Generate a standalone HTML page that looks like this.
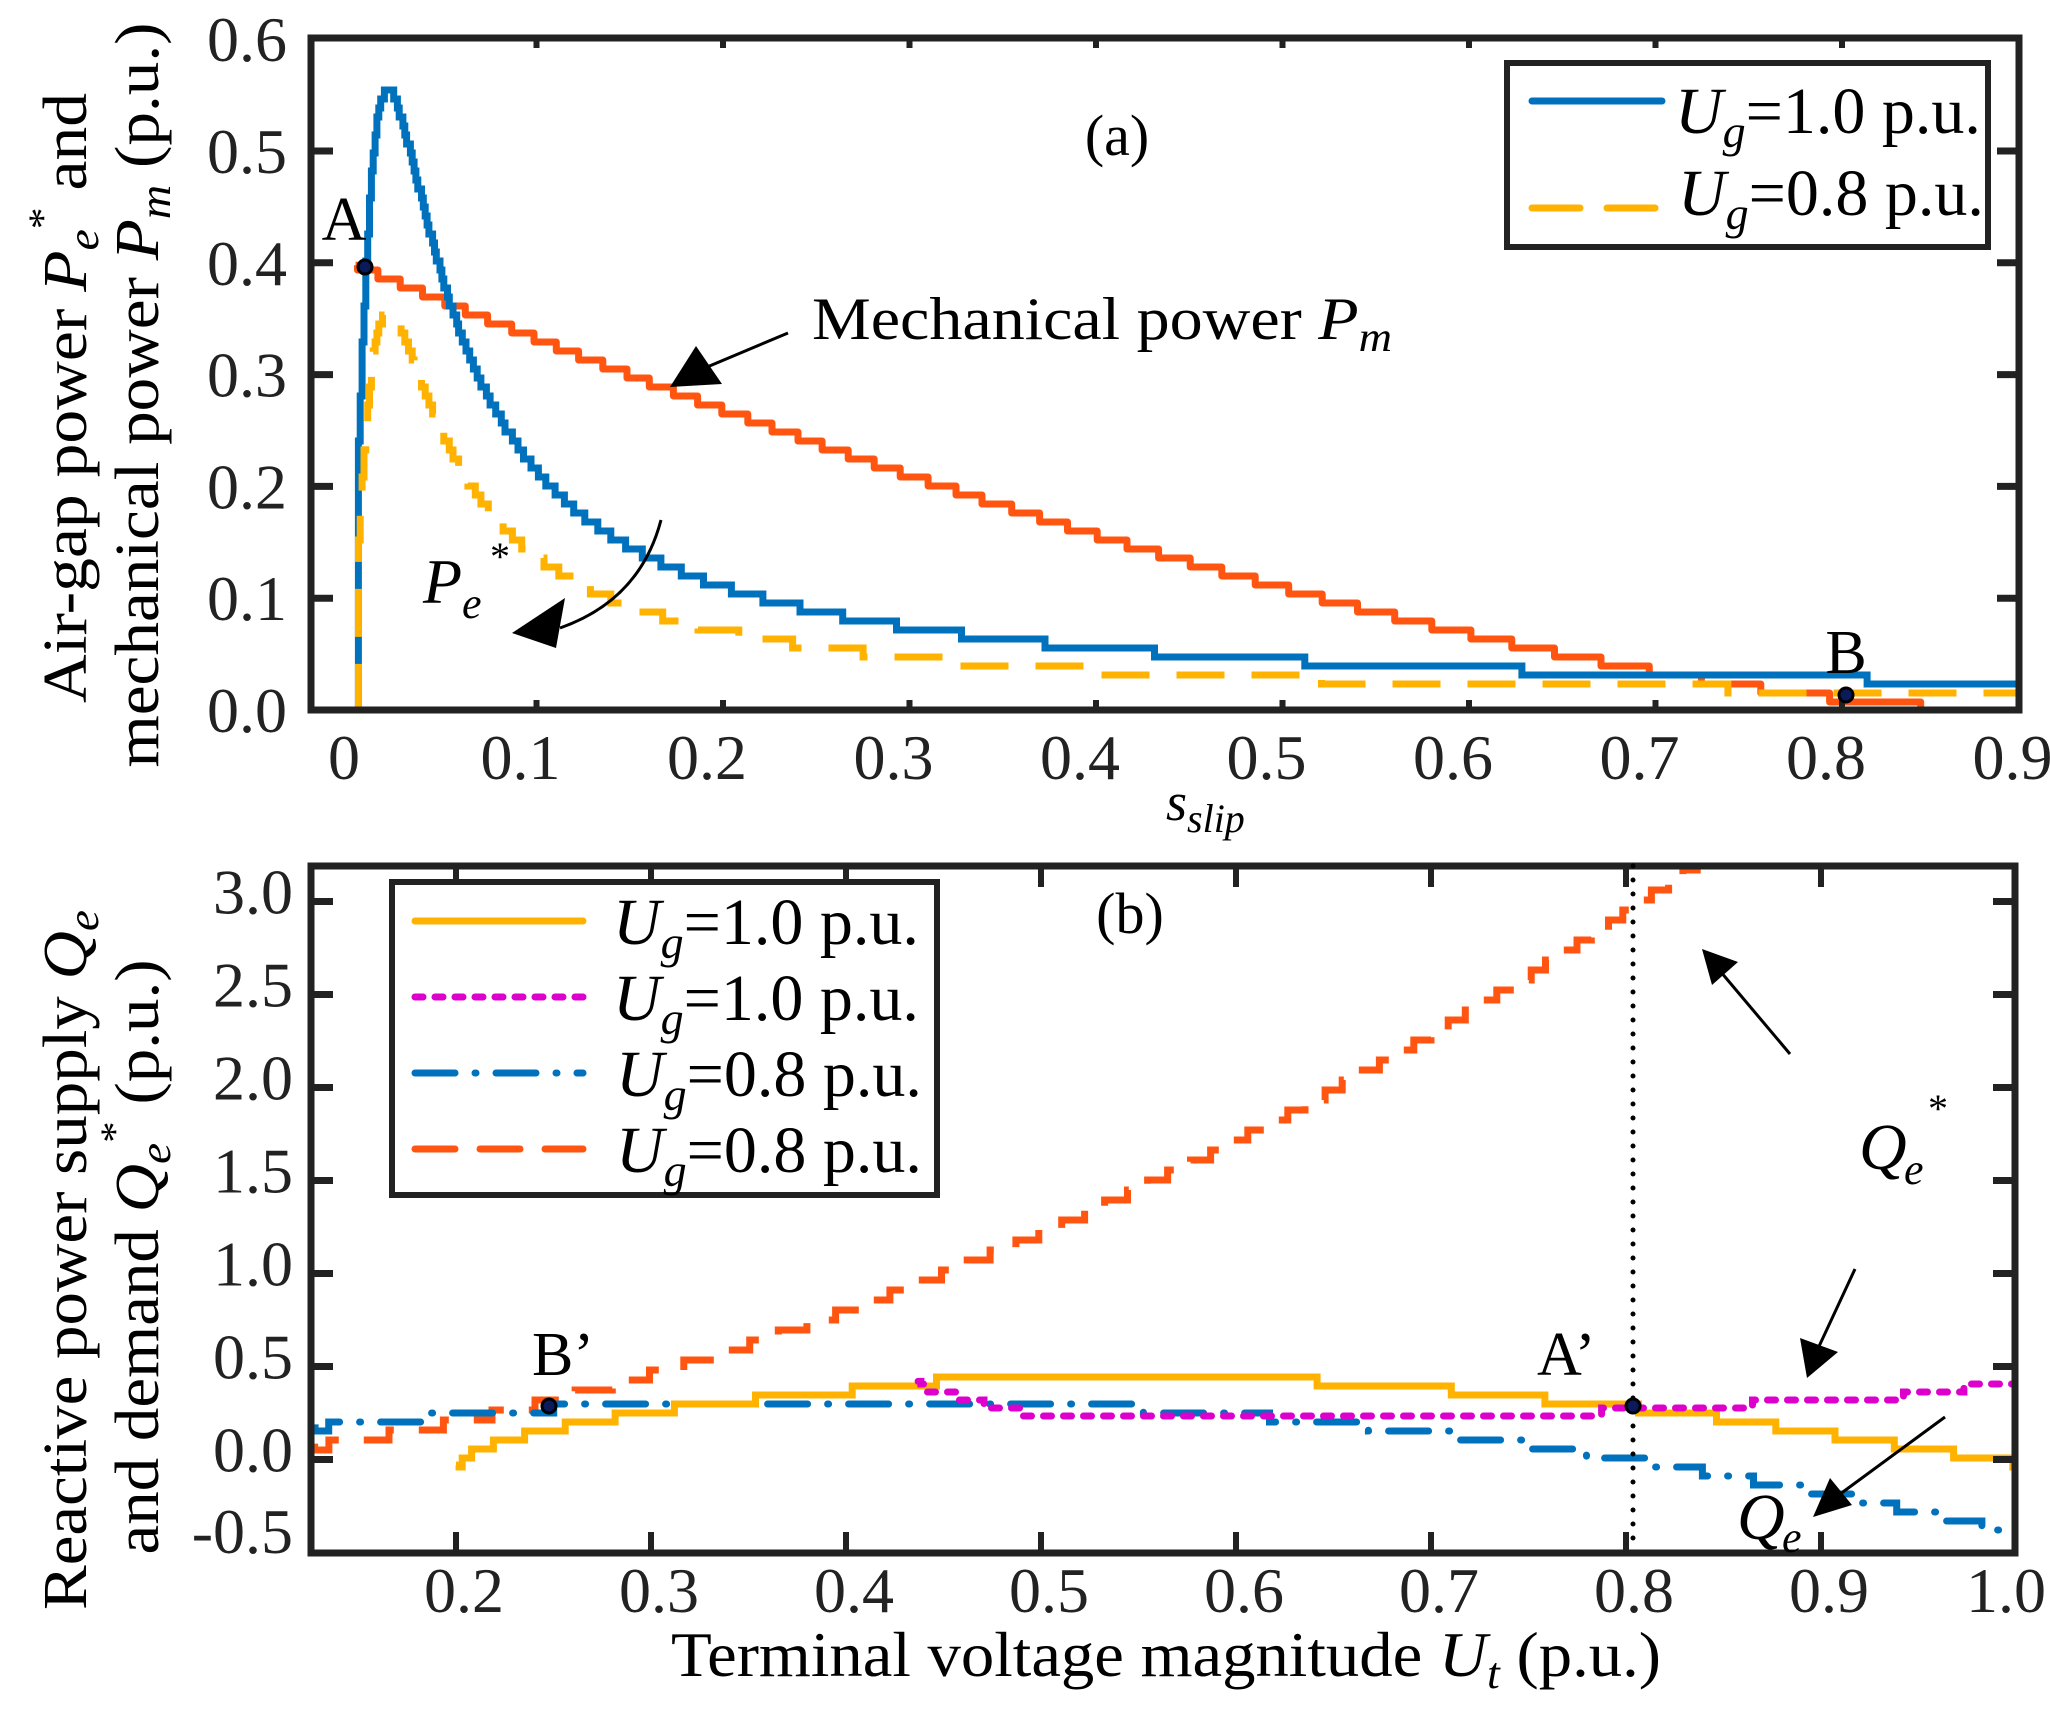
<!DOCTYPE html>
<html><head><meta charset="utf-8"><style>
html,body{margin:0;padding:0;background:#fff}
svg{display:block}
text{font-family:"Liberation Serif","Times New Roman",serif;fill:#000}
.t{font-size:64px;fill:#222}
.i{font-style:italic}
</style></head><body>
<svg id="s" width="2050" height="1709" viewBox="0 0 2050 1709" xmlns="http://www.w3.org/2000/svg">
<defs>
<clipPath id="c1"><rect x="311" y="38" width="1708" height="672"/></clipPath>
<clipPath id="c2"><rect x="311" y="863" width="1704" height="690"/></clipPath>
</defs>
<g id="g1" clip-path="url(#c1)"></g>
<g id="g2" clip-path="url(#c2)"></g>
<g id="ax" stroke="#222" stroke-width="7" fill="none"></g>
<g id="lab"></g>

<text x="1117" y="155" font-size="58" text-anchor="middle">(a)</text>
<text x="344" y="240" font-size="62" text-anchor="middle">A</text>
<text x="1846" y="673" font-size="62" text-anchor="middle">B</text>
<circle cx="365" cy="267" r="7" fill="#0a1a5a" stroke="#000" stroke-width="3"/>
<circle cx="1846" cy="695" r="7" fill="#0a1a5a" stroke="#000" stroke-width="3"/>
<text x="812" y="339" font-size="60" textLength="580" lengthAdjust="spacingAndGlyphs">Mechanical power <tspan class="i">P</tspan><tspan class="i" font-size="42" dy="12">m</tspan></text>
<line x1="788" y1="333" x2="700" y2="370" stroke="#000" stroke-width="3"/>
<polygon points="670,387 696,346 722,384" fill="#000"/>
<text x="423" y="603" font-size="64" class="i">P</text>
<text x="462" y="618" font-size="44" class="i">e</text>
<text x="490" y="570" font-size="40">*</text>
<path d="M661,520 Q640,600 560,628" stroke="#000" stroke-width="3" fill="none"/>
<polygon points="512,633 565,598 556,648" fill="#000"/>
<text x="1166" y="820" font-size="54" class="i">s<tspan font-size="40" dy="12">slip</tspan></text>
<text transform="translate(86,398) rotate(-90)" font-size="62" text-anchor="middle" textLength="610" lengthAdjust="spacingAndGlyphs">Air-gap power <tspan class="i">P</tspan><tspan class="i" font-size="44" dy="12">e</tspan><tspan font-size="40" dy="-42">*</tspan><tspan dy="30"> and</tspan></text>
<text transform="translate(158,395) rotate(-90)" font-size="62" text-anchor="middle" textLength="745" lengthAdjust="spacingAndGlyphs">mechanical power <tspan class="i">P</tspan><tspan class="i" font-size="44" dy="12">m</tspan><tspan dy="-12"> (p.u.)</tspan></text>

<rect x="1507" y="63" width="481" height="184" fill="#fff" stroke="#222" stroke-width="6"/>
<line x1="1532" y1="101" x2="1662" y2="101" stroke="#0072BD" stroke-width="7" stroke-linecap="round"/>
<line x1="1532" y1="208" x2="1662" y2="208" stroke="#FFB300" stroke-width="7" stroke-dasharray="48 27" stroke-linecap="round"/>
<text x="1675" y="133" font-size="66"><tspan class="i">U</tspan><tspan class="i" font-size="46" dy="14">g</tspan><tspan dy="-14">=1.0 p.u.</tspan></text>
<text x="1678" y="215" font-size="66"><tspan class="i">U</tspan><tspan class="i" font-size="46" dy="14">g</tspan><tspan dy="-14">=0.8 p.u.</tspan></text>

<line x1="1633" y1="866" x2="1633" y2="1552" stroke="#000" stroke-width="5" stroke-dasharray="0 14" stroke-linecap="round"/>
<text x="1130" y="933" font-size="58" text-anchor="middle">(b)</text>
<text x="532" y="1375" font-size="62">B’</text>
<text x="1537" y="1375" font-size="62">A’</text>
<circle cx="549" cy="1406" r="7" fill="#0a1a5a" stroke="#000" stroke-width="3"/>
<circle cx="1633" cy="1406" r="7" fill="#0a1a5a" stroke="#000" stroke-width="3"/>
<text x="1859" y="1169" font-size="66" class="i">Q</text>
<text x="1904" y="1184" font-size="44" class="i">e</text>
<text x="1928" y="1122" font-size="40">*</text>
<text x="1737" y="1539" font-size="66" class="i">Q</text>
<text x="1782" y="1552" font-size="44" class="i">e</text>
<line x1="1790" y1="1054" x2="1715" y2="965" stroke="#000" stroke-width="3"/>
<polygon points="1702,949 1738,962 1712,985" fill="#000"/>
<line x1="1855" y1="1269" x2="1815" y2="1355" stroke="#000" stroke-width="3"/>
<polygon points="1807,1378 1800,1338 1838,1352" fill="#000"/>
<line x1="1945" y1="1417" x2="1832" y2="1500" stroke="#000" stroke-width="3"/>
<polygon points="1813,1517 1830,1478 1852,1505" fill="#000"/>
<text x="1166" y="1676" font-size="64" text-anchor="middle" textLength="990" lengthAdjust="spacingAndGlyphs">Terminal voltage magnitude <tspan class="i">U</tspan><tspan class="i" font-size="44" dy="12">t</tspan><tspan dy="-12"> (p.u.)</tspan></text>
<text transform="translate(86,1260) rotate(-90)" font-size="62" text-anchor="middle" textLength="700" lengthAdjust="spacingAndGlyphs">Reactive power supply <tspan class="i">Q</tspan><tspan class="i" font-size="44" dy="12">e</tspan></text>
<text transform="translate(158,1257) rotate(-90)" font-size="62" text-anchor="middle" textLength="595" lengthAdjust="spacingAndGlyphs">and demand <tspan class="i">Q</tspan><tspan class="i" font-size="44" dy="12">e</tspan><tspan font-size="40" dy="-42">*</tspan><tspan dy="30"> (p.u.)</tspan></text>

<rect x="392" y="882" width="545" height="313" fill="#fff" stroke="#222" stroke-width="6"/>
<line x1="415" y1="921" x2="583" y2="921" stroke="#FFB300" stroke-width="7" stroke-linecap="round"/>
<line x1="415" y1="997" x2="583" y2="997" stroke="#DD00CC" stroke-width="7" stroke-dasharray="8 12" stroke-linecap="round"/>
<line x1="415" y1="1073" x2="583" y2="1073" stroke="#0072BD" stroke-width="7" stroke-dasharray="40 20 1 20" stroke-linecap="round"/>
<line x1="415" y1="1149" x2="583" y2="1149" stroke="#FF5511" stroke-width="7" stroke-dasharray="40 25" stroke-linecap="round"/>
<text x="613" y="944" font-size="66"><tspan class="i">U</tspan><tspan class="i" font-size="46" dy="14">g</tspan><tspan dy="-14">=1.0 p.u.</tspan></text>
<text x="613" y="1020" font-size="66"><tspan class="i">U</tspan><tspan class="i" font-size="46" dy="14">g</tspan><tspan dy="-14">=1.0 p.u.</tspan></text>
<text x="616" y="1096" font-size="66"><tspan class="i">U</tspan><tspan class="i" font-size="46" dy="14">g</tspan><tspan dy="-14">=0.8 p.u.</tspan></text>
<text x="616" y="1172" font-size="66"><tspan class="i">U</tspan><tspan class="i" font-size="46" dy="14">g</tspan><tspan dy="-14">=0.8 p.u.</tspan></text>
</svg>
<script>
(function(){
var NS="http://www.w3.org/2000/svg";
function el(p,n,a,txt){var e=document.createElementNS(NS,n);for(var k in a)e.setAttribute(k,a[k]);if(txt!==undefined)e.textContent=txt;p.appendChild(e);return e;}
var g1=document.getElementById('g1'),g2=document.getElementById('g2'),ax=document.getElementById('ax'),lab=document.getElementById('lab');
function X1(s){return 350+1865*s;} function Y1(v){return 710-1118*v;}
function X2(u){return 456+(u-0.2)*1950;} function Y2(q){return 1459.5-186*q;}
function stair(pts,q){
  var d="M"+pts[0][0].toFixed(1)+","+pts[0][1].toFixed(1); var py=pts[0][1];
  for(var i=1;i<pts.length;i++){var x=pts[i][0],y=Math.round(pts[i][1]/q)*q; if(y!==py){d+="L"+x.toFixed(1)+","+py.toFixed(1)+"L"+x.toFixed(1)+","+y.toFixed(1);py=y;}}
  d+="L"+pts[pts.length-1][0].toFixed(1)+","+py.toFixed(1);return d;}
function samp(f,a,b,n,X,Y){var p=[];for(var i=0;i<=n;i++){var t=a+(b-a)*i/n;p.push([X(t),Y(f(t))]);}return p;}
function pm(s){var r=1-s/0.88;return r>0?0.4*Math.pow(r,1.55):0;}
function pe(s){return 1.11/(s/0.02+0.02/s);}
var pb=[[X1(0.0035),Y1(0)]].concat(samp(pe,0.0045,0.9,900,X1,Y1));
var py=[[X1(0.0035),Y1(0)]].concat(samp(function(s){return 0.64*pe(s);},0.0045,0.9,900,X1,Y1));
el(g1,'path',{d:stair(samp(pm,0.003,0.9,900,X1,Y1),9),stroke:'#FF5511','stroke-width':7,fill:'none','stroke-linejoin':'round'});
el(g1,'path',{d:stair(pb,9),stroke:'#0072BD','stroke-width':7,fill:'none'});
el(g1,'path',{d:stair(py,9),stroke:'#FFB300','stroke-width':7,fill:'none','stroke-dasharray':'48 27'});
function lerp(P,u){if(u<=P[0][0])return P[0][1];for(var i=1;i<P.length;i++){if(u<=P[i][0]){var a=P[i-1],b=P[i];return a[1]+(b[1]-a[1])*(u-a[0])/(b[0]-a[0]);}}return P[P.length-1][1];}
var yel=[[0.2,-0.03],[0.21,0.05],[0.23,0.12],[0.26,0.19],[0.3,0.26],[0.35,0.32],[0.4,0.37],[0.44,0.39],[0.445,0.42],[0.64,0.42],[0.7,0.38],[0.75,0.33],[0.8,0.28],[0.85,0.22],[0.9,0.14],[0.95,0.06],[1.0,-0.02]];
var mag=[[0.437,0.42],[0.44,0.38],[0.46,0.33],[0.48,0.27],[0.5,0.24],[0.52,0.22],[0.78,0.22],[0.79,0.27],[0.86,0.27],[0.87,0.33],[0.94,0.33],[0.95,0.38],[1.0,0.39]];
el(g2,'path',{d:stair(samp(function(u){return 4.57*u*u-0.006+0.08*Math.sin(Math.PI*(u-0.126)/0.75);},0.126,0.86,500,X2,Y2),10),stroke:'#FF5511','stroke-width':7,fill:'none','stroke-dasharray':'40 25'});
el(g2,'path',{d:stair(samp(function(u){return -2*(u-0.4)*(u-0.4)+0.32;},0.126,1.0,500,X2,Y2),9),stroke:'#0072BD','stroke-width':7,fill:'none','stroke-dasharray':'40 20 1 20','stroke-linecap':'round'});
el(g2,'path',{d:stair(samp(function(u){return lerp(yel,u);},0.2,1.0,500,X2,Y2),9),stroke:'#FFB300','stroke-width':7,fill:'none'});
el(g2,'path',{d:stair(samp(function(u){return lerp(mag,u);},0.437,1.0,400,X2,Y2),8),stroke:'#DD00CC','stroke-width':7,fill:'none','stroke-dasharray':'8 12','stroke-linecap':'round'});
el(ax,'rect',{x:311,y:38,width:1708,height:672});
el(ax,'rect',{x:311,y:866,width:1704,height:687});
var i;
for(i=1;i<=6;i++){var y=Y1(i/10); if(i<6){el(ax,'line',{x1:311,y1:y,x2:333,y2:y});el(ax,'line',{x1:2019,y1:y,x2:1997,y2:y});}}
for(i=0;i<=6;i++){el(lab,'text',{'class':'t',x:287,y:Y1(i/10)+22,'text-anchor':'end'},(i/10).toFixed(1));}
for(i=1;i<=8;i++){var x=X1(i/10);el(ax,'line',{x1:x,y1:710,x2:x,y2:700,'stroke-width':6});el(ax,'line',{x1:x,y1:38,x2:x,y2:48,'stroke-width':6});}
var xl=['0','0.1','0.2','0.3','0.4','0.5','0.6','0.7','0.8','0.9'];
for(i=0;i<=9;i++){el(lab,'text',{'class':'t',x:X1(i/10)-(i==0?6:16),y:779,'text-anchor':'middle'},xl[i]);}
var ql=['-0.5','0.0','0.5','1.0','1.5','2.0','2.5','3.0'];
for(i=0;i<8;i++){var q=-0.5+0.5*i,y2=Y2(q); if(i>0){el(ax,'line',{x1:311,y1:y2,x2:333,y2:y2});el(ax,'line',{x1:2015,y1:y2,x2:1993,y2:y2});}
 el(lab,'text',{'class':'t',x:293,y:(i==0?1553:y2+12),'text-anchor':'end'},ql[i]);}
for(i=2;i<=9;i++){var x2=X2(i/10);el(ax,'line',{x1:x2,y1:1553,x2:x2,y2:1532,'stroke-width':6});el(ax,'line',{x1:x2,y1:866,x2:x2,y2:887,'stroke-width':6});}
for(i=2;i<=10;i++){el(lab,'text',{'class':'t',x:X2(i/10)+(i==10?-10:8),y:1612,'text-anchor':'middle'},(i/10).toFixed(1));}
})();
</script>
</body></html>
